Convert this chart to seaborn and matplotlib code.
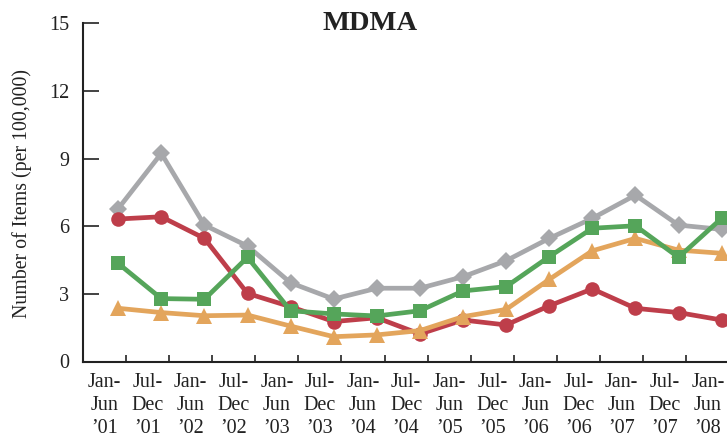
import matplotlib
matplotlib.use("Agg")
import matplotlib.pyplot as plt
import seaborn as sns
import numpy as np
import pandas as pd

periods = ["Jan-\nJun\n\u201901", "Jul-\nDec\n\u201901", "Jan-\nJun\n\u201902", "Jul-\nDec\n\u201902",
           "Jan-\nJun\n\u201903", "Jul-\nDec\n\u201903", "Jan-\nJun\n\u201904", "Jul-\nDec\n\u201904",
           "Jan-\nJun\n\u201905", "Jul-\nDec\n\u201905", "Jan-\nJun\n\u201906", "Jul-\nDec\n\u201906",
           "Jan-\nJun\n\u201907", "Jul-\nDec\n\u201907", "Jan-\nJun\n\u201908"]

gray_vals = [6.78, 9.23, 6.05, 5.12, 3.49, 2.77, 3.25, 3.25, 3.76, 4.47, 5.46, 6.35, 7.38, 6.05, 5.86]
red_vals = [6.32, 6.42, 5.46, 3.02, 2.43, 1.77, 1.94, 1.22, 1.84, 1.62, 2.47, 3.22, 2.36, 2.17, 1.84]
orange_vals = [2.36, 2.17, 2.03, 2.06, 1.57, 1.10, 1.18, 1.37, 1.99, 2.31, 3.64, 4.91, 5.46, 4.94, 4.80]
green_vals = [4.35, 2.79, 2.76, 4.62, 2.25, 2.11, 2.02, 2.25, 3.13, 3.32, 4.65, 5.91, 6.02, 4.62, 6.35]

yticks = [0, 3, 6, 9, 12, 15]
title = "MDMA"
ylabel = "Number of Items (per 100,000)"

sns.set_theme(style="white")
plt.rcParams['font.family'] = ['Liberation Serif', 'DejaVu Serif']

fig = plt.figure(figsize=(7.27, 4.42), dpi=100)
W, H = 727, 442
x0_px, y0_px, ytop_px = 83.3, 361.5, 23.3
unit = 43.1
xlim = (-0.81, 14.4)
ax = fig.add_axes([x0_px / W, 1 - y0_px / H, (xlim[1] - xlim[0]) * unit / W, (y0_px - ytop_px) / H])

xs = np.arange(len(periods))
series = [
    (gray_vals, "#A7A8AB", "D", 9.5),
    (red_vals, "#BE3E4A", "o", 10.5),
    (orange_vals, "#E3A55C", "^", 11),
    (green_vals, "#55A55A", "s", 9.5),
]
for vals, col, mk, ms in series:
    df = pd.DataFrame({"x": xs, "y": vals})
    sns.lineplot(data=df, x="x", y="y", ax=ax, color=col, marker=mk, markersize=ms,
                 markeredgewidth=0, linewidth=3.4, clip_on=False)

ax.set_xlim(*xlim)
ax.set_ylim(0, 15)
ax.set_xlabel("")
ax.set_ylabel("")

ax.set_xticks(xs + 0.18)
ax.set_xticklabels([])
ax.set_xticks(xs - 0.32, minor=True)
ax.set_xticklabels(periods, minor=True, fontsize=14.5, color="#222222", linespacing=1.3)
ax.tick_params(axis="x", which="major", direction="in", length=5, width=1.2, color="#222222", bottom=True)
ax.tick_params(axis="x", which="minor", length=0, pad=8, bottom=True)

ax.set_yticks(yticks)
ax.set_yticklabels([str(v) for v in yticks], fontsize=14.5, color="#222222")
ax.tick_params(axis="y", direction="in", length=11.5, width=1.2, color="#222222", pad=10, left=True)

for s in ["top", "right"]:
    ax.spines[s].set_visible(False)
for s in ["left", "bottom"]:
    ax.spines[s].set_color("#222222")
    ax.spines[s].set_linewidth(1.5)

fig.text(370 / W, 1 - 24 / H, title, ha="center", va="center", fontsize=20.5,
         fontweight="bold", color="#222222")
fig.text(22 / W, 1 - 193 / H, ylabel, ha="center", va="center", rotation=90,
         fontsize=14.3, color="#222222")

fig.savefig("out.png", dpi=100)
